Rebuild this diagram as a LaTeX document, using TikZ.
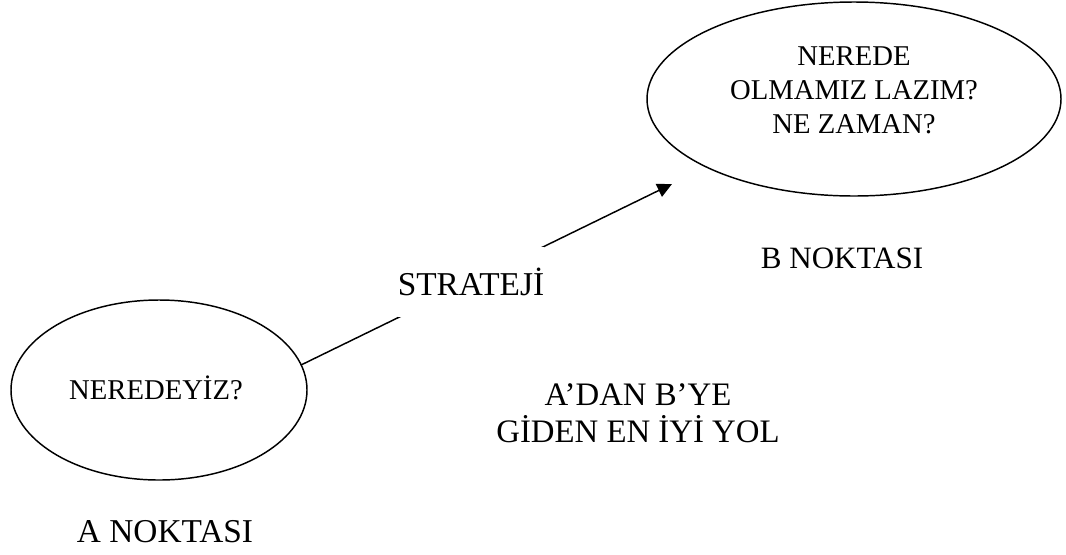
\documentclass[tikz,border=0pt]{standalone}
\usepackage{fontspec}
\setmainfont{Liberation Serif}
\usetikzlibrary{shapes.geometric,arrows.meta}
\begin{document}
\begin{tikzpicture}[x=0.75pt,y=-0.75pt,
  oval/.style={ellipse,draw,line width=1.1pt,inner sep=0pt,outer sep=0pt},
  txt/.style={font=\fontsize{21.5}{25.5}\selectfont,align=center,inner sep=0pt},
  big/.style={font=\fontsize{#1}{#1}\selectfont,inner sep=0pt,anchor=base},
  link/.style={line width=1.1pt,-{Triangle[length=11pt,width=10.5pt]}}]
  \useasboundingbox (0,0) rectangle (1066,554);

  % point B (top right)
  \node[oval,minimum width=310.5pt,minimum height=145.5pt] (B) at (854,99) {};
  \node[txt] (Btxt) at (854,90) {NEREDE\\OLMAMIZ LAZIM?\\NE ZAMAN?};
  \node[big=23.3] (Blbl) at (842,268) {B NOKTASI};

  % point A (bottom left)
  \node[oval,minimum width=222pt,minimum height=135pt] (A) at (159,390) {};
  \node[txt] (Atxt) at (156,388) {NEREDEYİZ?};
  \node[big=25] (Albl) at (165,542) {A NOKTASI};

  % the route from A towards B
  \coordinate (tip) at (672,184);
  \draw[link] (A.10) -- (tip)
    node[pos=0.458,font=\fontsize{25}{25}\selectfont,inner sep=0pt,
         fill=white,minimum height=52.5pt] (strat) {STRATEJİ};

  \node[big=24.6] (route1) at (638,405) {A’DAN B’YE};
  \node[big=24.6] (route2) at (638,442) {GİDEN EN İYİ YOL};
\end{tikzpicture}
\end{document}
